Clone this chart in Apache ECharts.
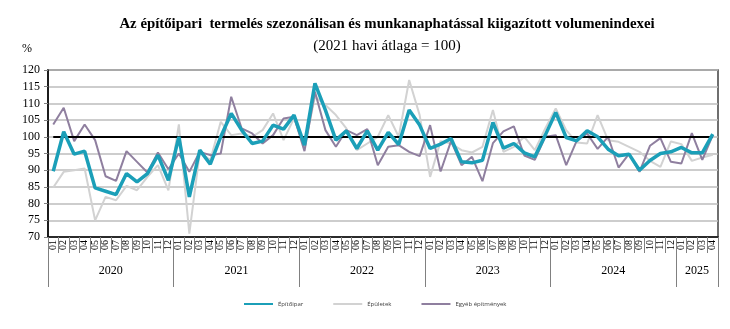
<!DOCTYPE html>
<html>
<head>
<meta charset="utf-8">
<script src="https://cdn.jsdelivr.net/npm/echarts@6/dist/echarts.min.js"></script>
<style>html,body{margin:0;padding:0;background:#fff}#c{width:730px;height:329px}</style>
</head>
<body>
<div id="c"></div>
<script>
var years = ['2020', '2021', '2022', '2023', '2024', '2025'];
var monthsPerYear = [12, 12, 12, 12, 12, 4];
var monthNames = ['01','02','03','04','05','06','07','08','09','10','11','12'];
var yTicks = { min: 70, max: 120, interval: 5 };
var refLevel = 100;

var epitoipar = [89.7,101.5,94.8,95.7,84.7,83.7,82.7,89,86.5,89,94.5,87,
  100,82,96,91.8,100,107,102,98,98.7,103.5,102.3,106.5,
  97.5,116,108,99,101.8,96.5,101.8,96,101.3,97.7,108,103.5,
  96.5,97.8,99.5,92.5,92.2,93,104.3,96.6,98,95.2,94,100.5,
  107.3,99.8,98.8,101.8,100,96.3,94.3,94.8,90,92.9,95,95.5,
  96.8,95.2,95.2,100.8];
var epuletek = [84.8,89.5,90,90.5,75,82,81,85.3,84,88,91.5,84,
  103.7,71,95.5,93,104.5,100.5,101,100,102,107,99,105.5,
  97,112,109.5,106.5,102.5,96,98,100,106.5,100,117,106.5,
  88,98.7,98,96,95.3,97,108,95.5,97,100,96,102.5,
  108.5,102,98.3,98,106.5,99,98.5,97,95.5,92.8,91,98.6,
  97.8,92.8,93.8,94.6];
var egyeb = [103.7,108.7,98.7,103.7,99,88.2,86.8,95.7,92.5,89.3,95.3,90.3,
  95,89.5,95.5,94.5,95,112,102.5,101,98,100.5,105.5,106,
  95.7,113.5,102,97,102,100.5,102.3,91.5,97,97.5,95.5,94.2,
  103.5,89.6,98.7,91.5,94,86.7,98.1,101.6,103.1,94.4,93.1,100,
  100.5,91.5,98.8,101,96.4,100,90.8,94.9,89.5,97.3,99.6,92.5,
  92,101.1,93.1,100.5];

// month axis categories
var monthLabels = [];
var categories = [];
years.forEach(function (y, yi) {
  for (var m = 0; m < monthsPerYear[yi]; m++) {
    monthLabels.push(monthNames[m]);
    categories.push(y + '-' + monthNames[m]);
  }
});
var n = categories.length;
// half-month positions for the year axis (boundaryGap false, 2n+1 points)
var yearAxisData = [];
var yearTickIdx = {};
var yearLabelIdx = {};
var start = 0;
for (var k = 0; k <= 2 * n; k++) yearAxisData.push('');
years.forEach(function (y, yi) {
  var s = start * 2, e = (start + monthsPerYear[yi]) * 2;
  yearTickIdx[s] = true; yearTickIdx[e] = true;
  var mid = (s + e) / 2;
  yearLabelIdx[mid] = true;
  yearAxisData[mid] = y;
  start += monthsPerYear[yi];
});

var chart = echarts.init(document.getElementById('c'), null, { renderer: 'canvas' });
var serif = '"Liberation Serif", "Times New Roman", serif';
chart.setOption({
  animation: false,
  backgroundColor: '#fff',
  title: {
    text: 'Az építőipari  termelés szezonálisan és munkanaphatással kiigazított volumenindexei',
    subtext: '(2021 havi átlaga = 100)',
    left: 382, textAlign: 'center', top: 12, itemGap: 7,
    textStyle: { fontFamily: serif, fontSize: 14.8, fontWeight: 'bold', color: '#000' },
    subtextStyle: { fontFamily: serif, fontSize: 15, color: '#000' }
  },
  legend: {
    top: 296, left: 239,
    icon: 'rect', itemWidth: 29, itemHeight: 2, itemGap: 30,
    textStyle: { fontFamily: '"Open Sans", sans-serif', fontSize: 6, color: '#404040' },
    data: ['Építőipar', 'Épületek', 'Egyéb építmények']
  },
  grid: { left: 48, right: 12, top: 70, bottom: 92, show: true, borderColor: '#404040', borderWidth: 1.5, containLabel: false },
  xAxis: [{
    type: 'category', data: monthLabels, boundaryGap: true, position: 'bottom',
    axisLine: { lineStyle: { color: '#000', width: 1.5 } },
    axisTick: { show: true, interval: 0, length: 16, lineStyle: { color: '#808080' } },
    axisLabel: { interval: 0, rotate: 90, margin: 3, fontFamily: serif, fontSize: 10, color: '#000' },
    splitLine: { show: false }
  }, {
    type: 'category', data: yearAxisData, boundaryGap: false, position: 'bottom',
    axisLine: { show: false },
    axisTick: { show: true, length: 50, interval: function (i) { return !!yearTickIdx[i]; }, lineStyle: { color: '#808080' } },
    axisLabel: { interval: function (i) { return !!yearLabelIdx[i]; }, margin: 28, fontFamily: serif, fontSize: 12, color: '#000' },
    splitLine: { show: false }
  }],
  yAxis: {
    type: 'value', min: yTicks.min, max: yTicks.max, interval: yTicks.interval,
    name: '%', nameLocation: 'end', nameGap: 15,
    nameTextStyle: { fontFamily: serif, fontSize: 12, color: '#000', align: 'right', padding: [0, 16, 0, 0] },
    axisLine: { show: true, lineStyle: { color: '#000', width: 1.5 } },
    axisTick: { show: true, length: 4, lineStyle: { color: '#808080' } },
    axisLabel: { fontFamily: serif, fontSize: 12, color: '#000', margin: 8 },
    splitLine: { lineStyle: { color: '#bdbdbd', width: 1.5 } }
  },
  series: [{
    name: 'Építőipar', type: 'line', data: epitoipar, symbol: 'none', z: 5,
    lineStyle: { color: '#1b9fb8', width: 3.5 }, itemStyle: { color: '#1b9fb8' }
  }, {
    name: 'Épületek', type: 'line', data: epuletek, symbol: 'none', z: 3,
    lineStyle: { color: '#d2d2d2', width: 2 }, itemStyle: { color: '#d2d2d2' },
    markLine: {
      silent: true, symbol: 'none', label: { show: false },
      lineStyle: { color: '#000', width: 2, type: 'solid' },
      data: [[{ coord: [0, refLevel] }, { coord: [n - 1, refLevel] }]]
    }
  }, {
    name: 'Egyéb építmények', type: 'line', data: egyeb, symbol: 'none', z: 4,
    lineStyle: { color: '#8f7f9f', width: 2 }, itemStyle: { color: '#8f7f9f' }
  }]
});
</script>
</body>
</html>
